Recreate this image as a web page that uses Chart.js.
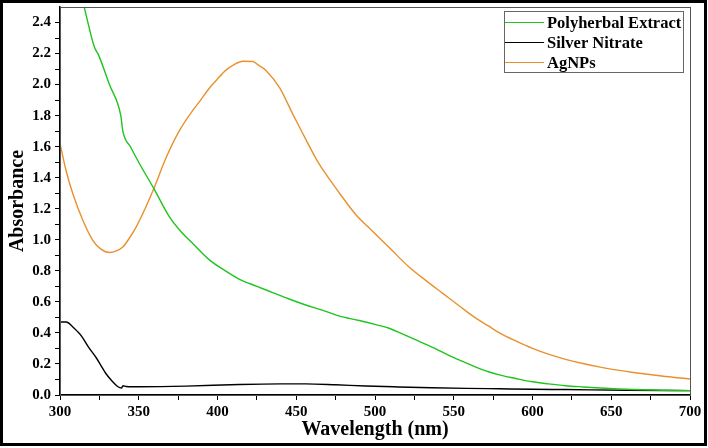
<!DOCTYPE html>
<html>
<head>
<meta charset="utf-8">
<script src="https://cdn.jsdelivr.net/npm/chart.js@4.4.0/dist/chart.umd.min.js"></script>
<style>
  html, body { margin: 0; padding: 0; background: #fff; }
  canvas { display: block; }
</style>
</head>
<body>
<canvas id="uv" width="708" height="448"></canvas>
<script>
const seriesNames = ['Polyherbal Extract', 'Silver Nitrate', 'AgNPs'];
const seriesColors = ['#1fc41f', '#000000', '#e8912c'];

// Polyherbal extract (goes off the top below ~315 nm)
const extractNm = [300, 310, 315.6, 321.9, 324.5, 331.4, 338.6, 339.9, 345, 350.5, 359.6, 369.5, 377, 384.3, 395, 405, 414, 425, 435, 445, 456, 467, 477, 490, 500, 509, 517, 526, 538, 549, 557, 564, 572, 579, 590, 600, 610, 621, 632, 643, 664, 682, 700];
const extractAbs = [3.10, 2.72, 2.49, 2.24, 2.19, 2.00, 1.80, 1.70, 1.595, 1.49, 1.33, 1.147, 1.05, 0.976, 0.869, 0.80, 0.745, 0.70, 0.66, 0.62, 0.58, 0.545, 0.51, 0.48, 0.455, 0.43, 0.395, 0.355, 0.30, 0.245, 0.21, 0.18, 0.15, 0.13, 0.105, 0.085, 0.072, 0.06, 0.052, 0.045, 0.035, 0.031, 0.028];

// Silver nitrate
const nitrateNm = [300, 304, 308, 311, 314, 318, 323, 326, 329, 333, 336, 338, 339, 340, 342, 350, 380, 414, 440, 456, 475, 494, 515, 536, 558, 579, 600, 621, 660, 700];
const nitrateAbs = [0.47, 0.47, 0.44, 0.41, 0.375, 0.31, 0.24, 0.19, 0.14, 0.09, 0.06, 0.047, 0.045, 0.06, 0.055, 0.053, 0.057, 0.068, 0.072, 0.072, 0.066, 0.058, 0.052, 0.047, 0.043, 0.04, 0.037, 0.035, 0.031, 0.028];

// AgNPs
const agnpNm = [300, 304, 308.1, 314.5, 320.8, 326, 331.4, 335, 339.9, 344, 348.4, 354, 359.6, 367.4, 375.9, 384.3, 388.6, 395, 399.2, 405, 410.8, 416.1, 422.4, 426, 430.9, 439.4, 447.8, 452, 462.7, 467, 477.5, 488, 498, 510, 521.6, 532, 543, 554, 564, 572, 579, 590, 600, 610, 621, 632, 643, 654, 664, 682, 700];
const agnpAbs = [1.62, 1.44, 1.298, 1.126, 0.997, 0.94, 0.918, 0.925, 0.954, 1.01, 1.083, 1.20, 1.33, 1.53, 1.705, 1.834, 1.89, 1.98, 2.027, 2.09, 2.13, 2.15, 2.149, 2.125, 2.09, 1.98, 1.81, 1.727, 1.52, 1.45, 1.30, 1.16, 1.06, 0.94, 0.825, 0.74, 0.655, 0.57, 0.495, 0.445, 0.40, 0.345, 0.30, 0.263, 0.23, 0.203, 0.18, 0.16, 0.145, 0.122, 0.103];

const xMin = 300, xMax = 700, xStep = 25;
const yMin = 0, yMax = 2.5, yStep = 0.1, yLastTick = 2.4;

const serif = "'Liberation Serif', 'Times New Roman', serif";

function pts(xs, ys) {
    return xs.map((x, i) => ({ x: x, y: ys[i] }));
}

const frame = {
    id: 'frame',
    beforeDraw(chart) {
        const c = chart.ctx;
        c.save();
        c.fillStyle = '#fff';
        c.fillRect(0, 0, chart.width, chart.height);
        c.restore();
    },
    afterDraw(chart) {
        const c = chart.ctx;
        const a = chart.chartArea;
        c.save();
        // plot box
        c.strokeStyle = '#555';
        c.lineWidth = 1;
        c.strokeRect(a.left + 0.5, a.top + 0.5, a.right - a.left, a.bottom - a.top);
        // legend box
        c.strokeStyle = '#666';
        c.strokeRect(504.5, 11.5, 179, 61);
        c.font = 'bold 16.5px ' + serif;
        c.textBaseline = 'middle';
        chart.data.datasets.forEach((ds, i) => {
            const y = 22.5 + i * 20;
            c.strokeStyle = ds.borderColor;
            c.lineWidth = 1.2;
            c.beginPath();
            c.moveTo(505, y);
            c.lineTo(544, y);
            c.stroke();
            c.fillStyle = '#000';
            c.fillText(ds.label, 547, y + 1);
        });
        // outer frame
        c.strokeStyle = '#000';
        c.lineWidth = 3;
        c.strokeRect(1.5, 1.5, 704, 443);
        c.restore();
    }
};

new Chart(document.getElementById('uv'), {
    type: 'line',
    data: {
        datasets: [
            { label: seriesNames[0], data: pts(extractNm, extractAbs), borderColor: seriesColors[0] },
            { label: seriesNames[1], data: pts(nitrateNm, nitrateAbs), borderColor: seriesColors[1] },
            { label: seriesNames[2], data: pts(agnpNm, agnpAbs), borderColor: seriesColors[2] }
        ]
    },
    options: {
        responsive: false,
        animation: false,
        devicePixelRatio: 1,
        layout: { padding: { top: 7, right: 18, left: 0, bottom: 0 } },
        elements: {
            point: { radius: 0 },
            line: { borderWidth: 1.4, tension: 0.4, cubicInterpolationMode: 'monotone', fill: false }
        },
        plugins: { legend: { display: false }, tooltip: { enabled: false } },
        scales: {
            x: {
                type: 'linear',
                min: xMin,
                max: xMax,
                afterFit(s) { s.height = 53; s.paddingLeft = 0; s.paddingRight = 0; },
                ticks: {
                    stepSize: xStep,
                    color: '#000',
                    padding: 3,
                    maxRotation: 0,
                    autoSkip: false,
                    font: { family: serif, size: 15, weight: 'bold' },
                    callback: v => (v % 50 === 0 ? String(v) : '')
                },
                grid: { drawOnChartArea: false, tickLength: 5, color: '#000', tickWidth: 1 },
                border: { color: '#000', width: 1.5 },
                title: {
                    display: true,
                    text: 'Wavelength (nm)',
                    color: '#000',
                    font: { family: serif, size: 20, weight: 'bold', lineHeight: 1.2 },
                    padding: { top: 0, bottom: 6 }
                }
            },
            y: {
                min: yMin,
                max: yMax,
                afterFit(s) { s.width = 60; s.paddingTop = 0; s.paddingBottom = 0; },
                afterBuildTicks(s) { s.ticks = s.ticks.filter(t => t.value <= yLastTick + 1e-6); },
                ticks: {
                    stepSize: yStep,
                    color: '#000',
                    padding: 4,
                    autoSkip: false,
                    font: { family: serif, size: 15, weight: 'bold' },
                    callback: v => (Math.round(v * 10) % 2 === 0 ? v.toFixed(1) : '')
                },
                grid: { drawOnChartArea: false, tickLength: 5, color: '#000', tickWidth: 1 },
                border: { color: '#000', width: 1.5 },
                title: {
                    display: true,
                    text: 'Absorbance',
                    color: '#000',
                    font: { family: serif, size: 20, weight: 'bold', lineHeight: 1.2 },
                    padding: { top: 6, bottom: 0 }
                }
            }
        }
    },
    plugins: [frame]
});
</script>
</body>
</html>
